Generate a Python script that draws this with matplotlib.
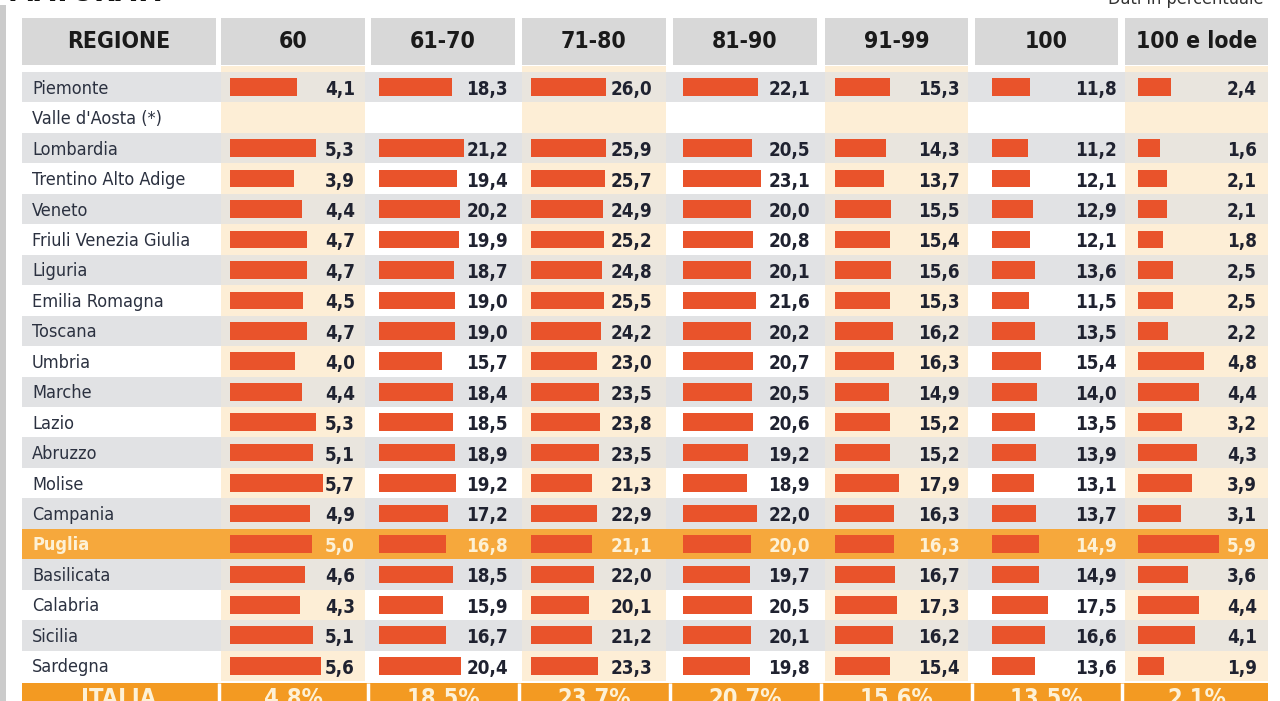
import numpy as np
import matplotlib
matplotlib.use("Agg")
from matplotlib import pyplot as plt
from matplotlib import transforms
from matplotlib.patches import Rectangle
from matplotlib import font_manager

nan = np.nan

regions = ["Piemonte", "Valle d'Aosta (*)", "Lombardia", "Trentino Alto Adige", "Veneto",
           "Friuli Venezia Giulia", "Liguria", "Emilia Romagna", "Toscana", "Umbria",
           "Marche", "Lazio", "Abruzzo", "Molise", "Campania", "Puglia", "Basilicata",
           "Calabria", "Sicilia", "Sardegna"]
columns = ["60", "61-70", "71-80", "81-90", "91-99", "100", "100 e lode"]

v60 = [4.1, nan, 5.3, 3.9, 4.4, 4.7, 4.7, 4.5, 4.7, 4.0, 4.4, 5.3, 5.1, 5.7, 4.9, 5.0, 4.6, 4.3, 5.1, 5.6]
v61_70 = [18.3, nan, 21.2, 19.4, 20.2, 19.9, 18.7, 19.0, 19.0, 15.7, 18.4, 18.5, 18.9, 19.2, 17.2, 16.8, 18.5, 15.9, 16.7, 20.4]
v71_80 = [26.0, nan, 25.9, 25.7, 24.9, 25.2, 24.8, 25.5, 24.2, 23.0, 23.5, 23.8, 23.5, 21.3, 22.9, 21.1, 22.0, 20.1, 21.2, 23.3]
v81_90 = [22.1, nan, 20.5, 23.1, 20.0, 20.8, 20.1, 21.6, 20.2, 20.7, 20.5, 20.6, 19.2, 18.9, 22.0, 20.0, 19.7, 20.5, 20.1, 19.8]
v91_99 = [15.3, nan, 14.3, 13.7, 15.5, 15.4, 15.6, 15.3, 16.2, 16.3, 14.9, 15.2, 15.2, 17.9, 16.3, 16.3, 16.7, 17.3, 16.2, 15.4]
v100 = [11.8, nan, 11.2, 12.1, 12.9, 12.1, 13.6, 11.5, 13.5, 15.4, 14.0, 13.5, 13.9, 13.1, 13.7, 14.9, 14.9, 17.5, 16.6, 13.6]
v100_lode = [2.4, nan, 1.6, 2.1, 2.1, 1.8, 2.5, 2.5, 2.2, 4.8, 4.4, 3.2, 4.3, 3.9, 3.1, 5.9, 3.6, 4.4, 4.1, 1.9]
italia = [4.8, 18.5, 23.7, 20.7, 15.6, 13.5, 2.1]
highlight = "Puglia"

series = [v60, v61_70, v71_80, v81_90, v91_99, v100, v100_lode]

# layout in pixels (figure is 1280 x 701)
W, H = 1280, 701
cell_left = [221, 371, 522, 673, 825, 975, 1125]
cell_right = [365, 515, 666, 817, 968, 1118, 1268]
bar_start = [230, 379, 531, 683, 835, 992, 1138]
px_per_unit = [16.3, 4.0, 2.88, 3.38, 3.6, 3.18, 13.8]
text_right = [355, 508, 652, 810, 960, 1117, 1257]
cream_col = [True, False, True, False, True, False, True]
reg_left, reg_right = 22, 216

pitch = 30.45
top0 = 72

def ry(ypx):
    return (ypx - top0) / pitch - 0.5

ylims = (ry(H), ry(0))

GRAY = "#e1e2e4"
GRAY_CREAM = "#e9e5de"
CREAM = "#fdeed6"
HEAD = "#d8d8d8"
ORANGE_ROW = "#f6a83c"
ORANGE_TOT = "#f39a22"
BAR = "#e9532b"
DARK = "#1f2230"
LIGHT = "#fdf1d6"

# condensed face if available
names = {f.name for f in font_manager.fontManager.ttflist}
if "Liberation Sans Narrow" in names:
    NARROW = dict(family="Liberation Sans Narrow")
else:
    NARROW = dict(family="DejaVu Sans", fontstretch="condensed")

fig = plt.figure(figsize=(W / 100, H / 100), dpi=100)
fig.patch.set_facecolor("white")
fig.add_artist(Rectangle((0, 0), 6 / W, 1 - 5 / H, transform=fig.transFigure, color="#cbcbcb", lw=0))

n = len(regions)
hi = regions.index(highlight)

# background: full-width rows
ax_bg = fig.add_axes([reg_left / W, 0, (cell_right[-1] - reg_left) / W, 1])
ax_bg.set_xlim(reg_left, cell_right[-1])
ax_bg.set_ylim(*ylims)
ax_bg.axis("off")
for i in range(n):
    if i == hi:
        ax_bg.axhspan(i - 0.5, i + 0.5, color=ORANGE_ROW, lw=0)
    elif i % 2 == 0:
        ax_bg.axhspan(i - 0.5, i + 0.5, color=GRAY, lw=0)
ax_bg.axhspan(ry(683), ry(H) + 1, color=ORANGE_TOT, lw=0)
seps = [(cell_right[k - 1] + cell_left[k]) / 2 if k > 0 else (reg_right + cell_left[0]) / 2
        for k in range(len(columns))]
ax_bg.vlines(seps, ry(683), ry(H) + 1, color="white", lw=2.5)

# region column
ax_r = fig.add_axes([reg_left / W, 0, (reg_right - reg_left) / W, 1])
ax_r.set_facecolor("none")
ax_r.set_xlim(reg_left, reg_right)
ax_r.set_ylim(*ylims)
ax_r.axis("off")
ax_r.axhspan(ry(18), ry(65), color=HEAD, lw=0)
ax_r.text((reg_left + reg_right) / 2, (ry(18) + ry(65)) / 2, "REGIONE", ha="center", va="center",
          fontsize=16.5, fontweight="bold", color="#1a1a1a", **NARROW)
for i, name in enumerate(regions):
    ax_r.text(32, i + 0.05, name, ha="left", va="center", fontsize=13,
              color=LIGHT if i == hi else "#2b3140",
              fontweight="bold" if i == hi else "normal", **NARROW)
ax_r.text((reg_left + reg_right) / 2, ry(699), "ITALIA", ha="center", va="center",
          fontsize=17, fontweight="bold", color=LIGHT, **NARROW)

# data columns
for k, col in enumerate(columns):
    l, r = cell_left[k], cell_right[k]
    w = r - l
    o = bar_start[k] - l
    s = px_per_unit[k]
    ax = fig.add_axes([l / W, 0, w / W, 1])
    ax.set_facecolor("none")
    ax.set_xlim(-o / s, (w - o) / s)
    ax.set_ylim(*ylims)
    ax.axis("off")
    tr = transforms.blended_transform_factory(ax.transAxes, ax.transData)
    ax.axhspan(ry(18), ry(65), color=HEAD, lw=0)
    if cream_col[k]:
        ax.axhspan(ry(66), n - 0.5, color=CREAM, lw=0)
        for i in range(n):
            if i == hi:
                ax.axhspan(i - 0.5, i + 0.5, color=ORANGE_ROW, lw=0)
            elif i % 2 == 0:
                ax.axhspan(i - 0.5, i + 0.5, color=GRAY_CREAM, lw=0)
    ax.text(0.5, (ry(18) + ry(65)) / 2, col, transform=tr, ha="center", va="center",
            fontsize=16.5, fontweight="bold", color="#1a1a1a", **NARROW)

    vals = np.array(series[k], dtype=float)
    rows = np.arange(n)
    ok = ~np.isnan(vals)
    ax.barh(rows[ok], vals[ok], height=0.58, color=BAR, lw=0)

    xt = (text_right[k] - l) / w
    for i in rows[ok]:
        ax.text(xt, i + 0.08, f"{vals[i]:.1f}".replace(".", ","), transform=tr, ha="right", va="center",
                fontsize=13.5, fontweight="bold", color=LIGHT if i == hi else DARK, **NARROW)
    ax.text(0.5, ry(699), f"{italia[k]:.1f}%".replace(".", ","), transform=tr, ha="center", va="center",
            fontsize=17, fontweight="bold", color=LIGHT, **NARROW)

# cut-off title and note at the top
fig.text(7 / W, 1 - 1 / H, "MATURATI", ha="left", va="baseline", fontsize=22,
         fontweight="bold", color="#111111", **NARROW)
fig.text(1264 / W, 1 - 4 / H, "Dati in percentuale", ha="right", va="baseline", fontsize=13,
         color="#333333", **NARROW)

fig.savefig("out.png", dpi=100)
